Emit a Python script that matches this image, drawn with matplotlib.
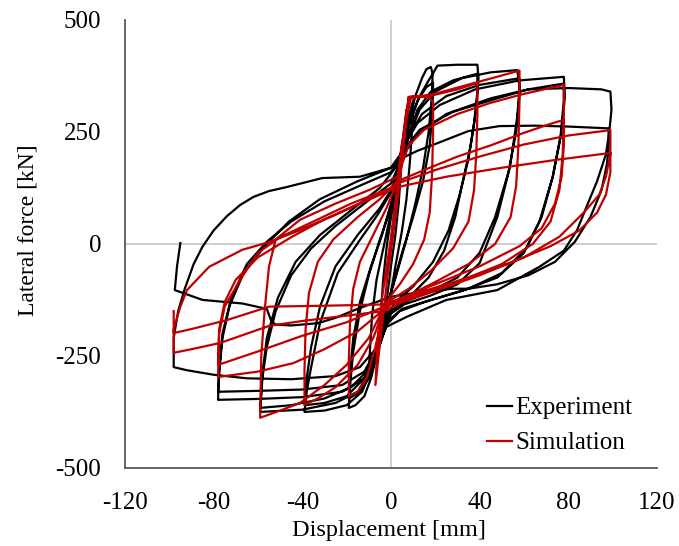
import numpy as np
import matplotlib
matplotlib.use("Agg")
import matplotlib.pyplot as plt

##### hysteresis data: (displacement [mm], lateral force [kN])
##### one list per loading cycle, in loading order

# Experiment
exp_c05 = [(0, 0), (2, 100), (3.5, 170), (5, 225), (4.6, 170), (3.5, 90), (2, 20), (0, -50),
           (-2, -130), (-3.5, -180), (-5, -220)]
exp_c10 = [(-5, -220), (-4.5, -150), (-3.5, -80), (-2, -10), (0, 60), (2, 120), (4, 190), (6, 240),
           (8, 285), (10, 320), (9.6, 260), (8.5, 180), (7, 100), (5, 30), (2, -50), (0, -110),
           (-3, -180), (-6, -240), (-8, -275), (-10, -300)]
exp_c20a = [(-10, -300), (-9.5, -240), (-8.5, -160), (-6.5, -80), (-3, 0), (0, 70), (3, 140), (5, 200),
            (8, 270), (11, 330), (14, 370), (16, 390), (18, 395), (18.8, 380), (18.5, 330), (17, 250),
            (14.5, 170), (11, 90), (7, 10), (3, -60), (0, -110), (-3, -170), (-6, -240), (-9, -300),
            (-12, -340), (-16, -360), (-19, -366)]
exp_c20b = [(-19, -366), (-18.5, -320), (-17, -240), (-14, -150), (-10, -70), (-5, 10), (0, 80), (3, 140),
            (5, 190), (8, 260), (12, 320), (16, 350), (19, 360), (18.8, 300), (17.5, 220), (14.5, 140),
            (10, 60), (5, -20), (1, -90), (-3, -160), (-6, -230), (-10, -300), (-14, -330), (-19, -345)]
exp_c40a = [(-19, -345), (-18.5, -290), (-17, -210), (-14, -130), (-9, -50), (-4, 20), (0, 90), (3, 150),
            (5, 200), (8, 270), (13, 330), (17, 365), (19.5, 385), (21, 398), (30, 400), (39, 400),
            (39.5, 370), (38.5, 300), (36, 220), (32, 130), (29, 60), (24, -15), (17, -75), (8, -120),
            (0, -150), (-4, -200), (-8, -270), (-13, -330), (-20, -360), (-30, -372), (-39, -375)]
exp_c40b = [(-39, -375), (-38, -330), (-36.5, -288), (-32, -176), (-24, -65), (-14, 9), (-6, 65), (0, 115),
            (4, 170), (7, 230), (12, 300), (18, 340), (28, 365), (39, 380), (39, 340), (37.5, 270),
            (35, 190), (31, 110), (26, 30), (19, -40), (10, -95), (2, -130), (-3, -170), (-7, -240),
            (-12, -300), (-20, -340), (-30, -355), (-39, -360)]
exp_c60a = [(-39, -360), (-38, -300), (-36, -230), (-32, -140), (-25, -50), (-15, 20), (-5, 80), (0, 120),
            (4, 170), (8, 240), (13, 300), (20, 340), (32, 370), (45, 383), (57, 388), (58, 350),
            (57, 284), (53.7, 172), (48, 60), (40, -43), (30, -90), (18, -115), (6, -135), (0, -155),
            (-4, -210), (-9, -280), (-15, -330), (-25, -355), (-40, -370), (-59, -375)]
exp_c60b = [(-59, -375), (-58, -300), (-56, -230), (-52, -150), (-45, -70), (-36, -10), (-25, 40),
            (-12, 90), (0, 135), (4, 180), (8, 240), (14, 290), (25, 330), (40, 355), (58, 370),
            (58, 330), (56.5, 250), (53, 160), (47, 60), (40, -20), (30, -75), (18, -105), (6, -130),
            (-1, -160), (-5, -220), (-10, -280), (-18, -320), (-30, -345), (-45, -360), (-59, -366)]
exp_c80a = [(-59, -366), (-58, -290), (-56, -210), (-51, -120), (-43, -40), (-32, 20), (-18, 75),
            (-5, 125), (2, 170), (6, 220), (12, 270), (22, 310), (38, 345), (58, 365), (78, 373),
            (78.5, 330), (77, 250), (73, 150), (67, 50), (60, -20), (48, -75), (32, -105), (15, -130),
            (4, -150), (-2, -180), (-6, -240), (-12, -300), (-22, -330), (-40, -342), (-60, -346),
            (-78, -348)]
exp_c80b = [(-78, -348), (-77.5, -290), (-76, -210), (-72, -120), (-65, -45), (-56, 5), (-45, 50),
            (-30, 95), (-14, 130), (0, 160), (5, 195), (12, 245), (25, 290), (45, 325), (62, 345),
            (78, 358), (78, 320), (76.5, 240), (73, 150), (68, 60), (61, -10), (50, -65), (35, -100),
            (18, -125), (5, -145), (-2, -175), (-6, -230), (-12, -285), (-22, -315), (-40, -325),
            (-60, -328), (-78, -330)]
exp_c100a = [(-78, -330), (-77.5, -280), (-76, -200), (-73, -140), (-66, -60), (-56, 0), (-46, 50),
             (-32, 100), (-15, 140), (0, 170), (5, 205), (13, 255), (28, 295), (48, 325), (62, 345),
             (80, 348), (95, 345), (99, 340), (99.5, 300), (98.5, 250), (97, 200), (93, 140), (88, 80),
             (84, 31), (78, -15), (67, -51), (48, -103), (25, -125), (7, -163), (-2, -185), (-7, -235),
             (-14, -275), (-25, -295), (-45, -302), (-65, -300), (-80, -292), (-92, -282), (-98, -275)]
exp_c100b = [(-98, -275), (-98, -210), (-96, -150), (-93, -100), (-89, -45), (-85, -6), (-80, 30),
             (-74, 62), (-68, 87), (-62, 105), (-55, 118), (-47, 127), (-31, 147), (-14, 150), (0, 170),
             (3, 187), (12, 208), (21, 225), (35, 252), (49, 263), (65, 264), (80, 262), (98, 258),
             (98.5, 230), (97.5, 180), (95, 120), (90, 60), (83, 5), (74, -40), (62, -70), (48, -90),
             (35, -100), (27, -100), (20, -105), (10, -110), (0, -118), (-14, -143), (-25, -165),
             (-33, -177), (-45, -182), (-52, -180), (-54, -172), (-56, -145), (-67, -133), (-85, -125),
             (-97.5, -103), (-96.5, -50), (-95, 2)]

# Simulation
sim_c10 = [(0, 0), (2, 90), (4.5, 200), (7, 300), (6, 230), (3.5, 120), (1, 20), (-1.5, -70),
           (-4, -180), (-7, -315)]
sim_c20 = [(-7, -315), (-6, -220), (-4, -120), (-1, -20), (2, 80), (4.5, 170), (6.5, 260), (8, 328),
           (12, 330), (17, 327), (19, 318), (19, 240), (18.5, 150), (17.5, 70), (15, 10), (10, -45),
           (4, -90), (0, -115), (-3, -140), (-7, -230), (-11, -300), (-15, -330), (-19, -340)]
sim_c40 = [(-19, -340), (-19, -260), (-18.5, -180), (-17, -100), (-14, -40), (-8, 20), (-2, 80), (3, 140),
           (5, 220), (7, 290), (8, 328), (19, 332), (30, 345), (39, 359), (39, 290), (38.5, 200),
           (37.5, 120), (35, 50), (28, -10), (18, -60), (8, -100), (0, -125), (-3, -145), (-8, -210),
           (-15, -270), (-25, -320), (-33, -345), (-39, -359)]
sim_c60 = [(-39, -359), (-39, -280), (-38.5, -190), (-37, -110), (-33, -40), (-26, 10), (-15, 60),
           (-5, 100), (3, 140), (5, 210), (7, 280), (9, 325), (19, 334), (39, 361), (50, 376), (58, 387),
           (58, 320), (57.5, 220), (56.5, 130), (54, 60), (47, 0), (35, -45), (20, -85), (8, -115),
           (0, -130), (-4, -150), (-10, -210), (-20, -270), (-30, -315), (-41, -355), (-50, -372),
           (-59, -388)]
sim_c80a = [(-59, -388), (-58.5, -250), (-57, -150), (-55, -50), (-52, 10), (-41, 54), (-25, 90),
            (-10, 120), (3, 150), (8, 220), (15, 255), (30, 290), (45, 315), (60, 335), (78, 355),
            (78, 290), (77.5, 200), (76, 120), (72, 50), (64, 0), (50, -45), (30, -85), (12, -115),
            (0, -135), (-4, -150), (-15, -195), (-30, -235), (-44, -266), (-60, -285), (-78, -297)]
sim_c80b = [(-78, -297), (-77.5, -200), (-75, -140), (-68, -80), (-60, -20), (-50, 15), (-35, 50),
            (-18, 90), (0, 125), (3, 140), (15, 165), (30, 195), (45, 220), (60, 248), (72, 268),
            (78, 277), (78, 220), (77, 150), (74, 90), (68, 35), (58, -5), (40, -50), (20, -90),
            (5, -120), (-3, -140), (-20, -175), (-40, -205), (-60, -240), (-78, -270)]
sim_c100a = [(-78, -270), (-77.5, -190), (-75, -130), (-70, -80), (-60, -30), (-45, 15), (-30, 55),
             (-12, 95), (0, 120), (3, 135), (20, 165), (40, 195), (60, 222), (80, 242), (99, 254),
             (99, 200), (97, 150), (94, 110), (87, 70), (76, 16), (60, -30), (40, -70), (20, -105),
             (5, -130), (-3, -150), (-20, -160), (-40, -172), (-55, -183), (-77, -221), (-90, -235),
             (-98, -243)]
sim_c100b = [(-98, -243), (-98, -190), (-95, -140), (-92, -103), (-82, -51), (-67, -13), (-55, 4),
             (-41, 31), (-25, 65), (-10, 100), (3, 127), (25, 150), (50, 170), (75, 188), (99, 203),
             (99, 160), (97, 110), (93, 70), (85, 30), (72, -5), (55, -40), (35, -75), (15, -105),
             (3, -125), (-3, -135), (-30, -138), (-55, -140), (-74, -170), (-90, -190), (-98, -199),
             (-98, -150)]

exp_cycles = [exp_c05, exp_c10, exp_c20a, exp_c20b, exp_c40a, exp_c40b, exp_c60a, exp_c60b,
              exp_c80a, exp_c80b, exp_c100a, exp_c100b]
sim_cycles = [sim_c10, sim_c20, sim_c40, sim_c60, sim_c80a, sim_c80b, sim_c100a, sim_c100b]

x_ticks = [-120, -80, -40, 0, 40, 80, 120]
y_ticks = [-500, -250, 0, 250, 500]

plt.rcParams['font.family'] = ['Liberation Serif', 'DejaVu Serif']
plt.rcParams['axes.unicode_minus'] = False

fig = plt.figure(figsize=(6.79, 5.46), dpi=100, facecolor='w')
ax = fig.add_axes([0.184, 0.143, 0.7835, 0.8205])

# zero lines
ax.axhline(0, color='#cccccc', lw=1.3, zorder=0)
ax.axvline(0, color='#cccccc', lw=1.3, zorder=0)

exp_pts = np.array([p for c in exp_cycles for p in c])
sim_pts = np.array([p for c in sim_cycles for p in c])
ax.plot(exp_pts[:, 0], exp_pts[:, 1], color='black', lw=1.6, label='Experiment', zorder=2,
        solid_joinstyle='round')
ax.plot(sim_pts[:, 0], sim_pts[:, 1], color='#c00000', lw=1.6, label='Simulation', zorder=3,
        solid_joinstyle='round')

ax.set_xlim(-120, 120)
ax.set_ylim(-500, 500)
ax.set_xticks(x_ticks)
ax.set_yticks(y_ticks)
ax.tick_params(axis='both', length=0, labelsize=18)
ax.tick_params(axis='x', pad=17)
ax.tick_params(axis='y', pad=17)

for s in ['top', 'right']:
    ax.spines[s].set_visible(False)
for s in ['left', 'bottom']:
    ax.spines[s].set_color('#595959')
    ax.spines[s].set_linewidth(1.3)

ax.set_xlabel('Displacement [mm]', fontsize=17.5)
ax.set_ylabel('Lateral force [kN]', fontsize=17)
ax.xaxis.set_label_coords(0.497, -0.116)
ax.yaxis.set_label_coords(-0.163, 0.531)

ax.legend(loc='lower left', bbox_to_anchor=(0.68, 0.03), frameon=False, fontsize=18,
          handlelength=1.0, handletextpad=0.15, labelspacing=0.5, borderpad=0, borderaxespad=0)

plt.savefig('out.png', dpi=100)
